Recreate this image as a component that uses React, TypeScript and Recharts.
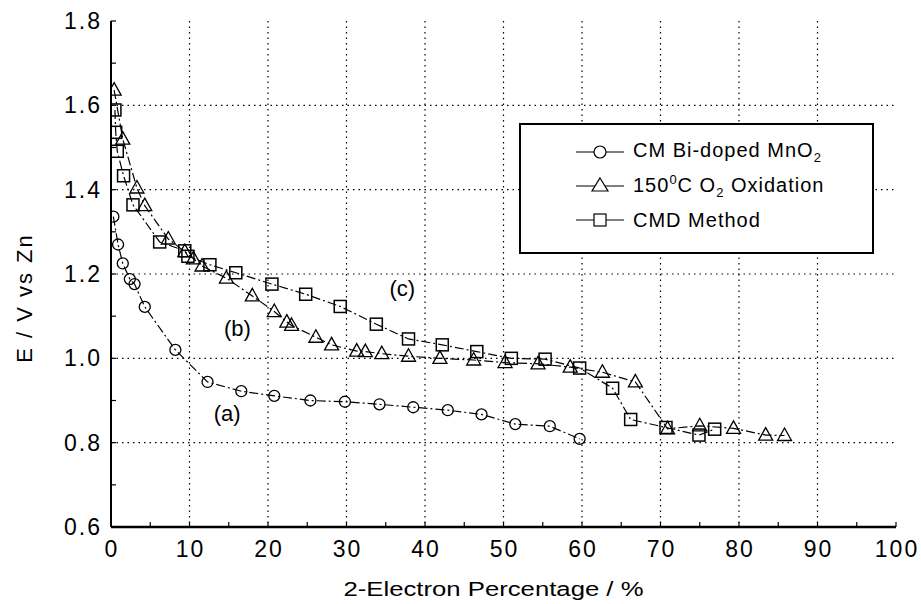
import { LineChart, Line, XAxis, YAxis, CartesianGrid, Legend, ReferenceDot } from 'recharts';

// (a) CM Bi-doped MnO2
const CM_X = [0.3, 0.9, 1.5, 2.4, 3.0, 4.3, 8.2, 12.3, 16.6, 20.8, 25.4, 29.8, 34.2, 38.5, 42.9, 47.2, 51.5, 55.9, 59.7];
const CM_E = [1.336, 1.27, 1.225, 1.188, 1.176, 1.122, 1.02, 0.944, 0.922, 0.911, 0.9, 0.897, 0.891, 0.884, 0.877, 0.867, 0.844, 0.839, 0.809];

// (b) 150C O2 oxidation
const OX_X = [0.4, 1.5, 3.3, 4.3, 7.3, 9.4, 10.5, 11.6, 14.7, 18.0, 20.8, 22.4, 23.0, 26.1, 28.1, 31.3, 32.4, 34.5, 37.9, 41.9, 46.2, 50.2, 54.4, 58.5, 62.6, 66.8, 70.9, 75.0, 79.3, 83.4, 85.8];
const OX_E = [1.636, 1.52, 1.404, 1.362, 1.283, 1.253, 1.236, 1.219, 1.19, 1.148, 1.111, 1.086, 1.078, 1.05, 1.032, 1.017, 1.016, 1.011, 1.005, 1.0, 0.996, 0.99, 0.987, 0.979, 0.967, 0.944, 0.833, 0.84, 0.834, 0.818, 0.817];

// (c) CMD method
const CMD_X = [0.5, 0.6, 0.8, 1.6, 2.8, 6.2, 9.4, 9.8, 12.6, 15.9, 20.5, 24.8, 29.2, 33.8, 37.9, 42.2, 46.6, 51.0, 55.3, 59.7, 63.9, 66.2, 70.7, 74.9, 76.9];
const CMD_E = [1.589, 1.536, 1.491, 1.433, 1.364, 1.276, 1.255, 1.242, 1.222, 1.203, 1.176, 1.152, 1.123, 1.081, 1.046, 1.032, 1.016, 1.0, 0.998, 0.977, 0.929, 0.855, 0.836, 0.818, 0.832];

const X_TICKS = [0, 5, 10, 15, 20, 25, 30, 35, 40, 45, 50, 55, 60, 65, 70, 75, 80, 85, 90, 95, 100];
const Y_TICKS = [0.6, 0.7, 0.8, 0.9, 1.0, 1.1, 1.2, 1.3, 1.4, 1.5, 1.6, 1.7, 1.8];
const X_GRID = [10, 20, 30, 40, 50, 60, 70, 80, 90];
const Y_GRID = [0.8, 1.0, 1.2, 1.4, 1.6];

const toPoints = (xs: number[], es: number[]) => xs.map((x, i) => ({ x, e: es[i] }));
const cmData = toPoints(CM_X, CM_E);
const oxData = toPoints(OX_X, OX_E);
const cmdData = toPoints(CMD_X, CMD_E);

const FONT = '"Liberation Sans", Arial, sans-serif';
const DASH = '9 3 2 3';

function Circle(props: any) {
  const { cx, cy } = props;
  if (cx == null || cy == null) return null;
  return <circle cx={cx} cy={cy} r={5.5} fill="none" stroke="#000" strokeWidth={1.3} />;
}

function Triangle(props: any) {
  const { cx, cy } = props;
  if (cx == null || cy == null) return null;
  return (
    <path
      d={`M${cx},${cy - 7.5} L${cx + 7},${cy + 5} L${cx - 7},${cy + 5} Z`}
      fill="none"
      stroke="#000"
      strokeWidth={1.3}
    />
  );
}

function Square(props: any) {
  const { cx, cy } = props;
  if (cx == null || cy == null) return null;
  return <rect x={cx - 6} y={cy - 6} width={12} height={12} fill="none" stroke="#000" strokeWidth={1.5} />;
}

function BottomTick({ x, y, payload }: any) {
  const v = payload.value;
  return (
    <g>
      <line x1={x} x2={x} y1={y} y2={y - 5} stroke="#000" strokeWidth={1.2} />
      {v % 10 === 0 && (
        <text x={x + 1} y={y + 30} textAnchor="middle" fontSize={23} fontFamily={FONT} letterSpacing={2} fill="#000">
          {v}
        </text>
      )}
    </g>
  );
}

function TopTick({ x, y }: any) {
  return <line x1={x} x2={x} y1={y} y2={y + 5} stroke="#000" strokeWidth={1.2} />;
}

function LeftTick({ x, y, payload }: any) {
  const v = payload.value;
  const major = Math.round(v * 10) % 2 === 0;
  return (
    <g>
      <line x1={x} x2={x + 5} y1={y} y2={y} stroke="#000" strokeWidth={1.2} />
      {major && (
        <text x={x - 9} y={y + 8} textAnchor="end" fontSize={23} fontFamily={FONT} letterSpacing={2} fill="#000">
          {v.toFixed(1)}
        </text>
      )}
    </g>
  );
}

function RightTick({ x, y }: any) {
  return <line x1={x} x2={x - 5} y1={y} y2={y} stroke="#000" strokeWidth={1.2} />;
}

function XTitle({ viewBox }: any) {
  const { x, y, width } = viewBox;
  return (
    <text
      x={x + width / 2 - 160}
      y={y + 69}
      fontSize={20}
      fontFamily={FONT}
      textLength={300}
      lengthAdjust="spacingAndGlyphs"
      fill="#000"
    >
      2-Electron Percentage / %
    </text>
  );
}

function YTitle({ viewBox }: any) {
  const { x, y, height } = viewBox;
  const cx = x + 32;
  const cy = y + height / 2 + 24;
  return (
    <text
      x={cx}
      y={cy}
      transform={`rotate(-90 ${cx} ${cy})`}
      textAnchor="middle"
      fontSize={22}
      fontFamily={FONT}
      letterSpacing={2}
      fill="#000"
    >
      E / V vs Zn
    </text>
  );
}

function Sample({ shape }: { shape: 'circle' | 'triangle' | 'square' }) {
  return (
    <svg width={48} height={22} style={{ display: 'block', flex: 'none' }}>
      <line x1={0} x2={48} y1={11} y2={11} stroke="#000" strokeWidth={1.2} />
      {shape === 'circle' && <circle cx={24} cy={11} r={6} fill="#fff" stroke="#000" strokeWidth={1.2} />}
      {shape === 'triangle' && <path d="M24,3 L32,16 L16,16 Z" fill="#fff" stroke="#000" strokeWidth={1.2} />}
      {shape === 'square' && <rect x={18} y={5} width={12} height={12} fill="#fff" stroke="#000" strokeWidth={1.2} />}
    </svg>
  );
}

function LegendBox() {
  const row = { display: 'flex', alignItems: 'center', height: 34, gap: 9, whiteSpace: 'nowrap' } as const;
  return (
    <div
      style={{
        background: '#fff',
        border: '2px solid #000',
        boxSizing: 'border-box',
        width: 355,
        height: 131,
        padding: '10px 0 0 55px',
        fontFamily: FONT,
        fontSize: 20,
        letterSpacing: 1,
        color: '#000',
        lineHeight: 1,
      }}
    >
      <div style={row}>
        <Sample shape="circle" />
        <span>
          CM Bi-doped MnO<sub style={{ fontSize: 13 }}>2</sub>
        </span>
      </div>
      <div style={row}>
        <Sample shape="triangle" />
        <span>
          150<sup style={{ fontSize: 13 }}>0</sup>C O<sub style={{ fontSize: 13 }}>2</sub> Oxidation
        </span>
      </div>
      <div style={row}>
        <Sample shape="square" />
        <span>CMD Method</span>
      </div>
    </div>
  );
}

const curveLabel = (value: string) => ({
  value,
  position: 'center' as const,
  fontSize: 22,
  fontFamily: FONT,
  fill: '#000',
});

export default function App() {
  return (
    <div style={{ position: 'absolute', left: 0, top: 0, background: '#fff' }}>
      <LineChart width={921} height={604} margin={{ top: 21, right: 25, bottom: 0, left: 0 }}>
        <CartesianGrid
          horizontalValues={Y_GRID}
          verticalValues={X_GRID}
          stroke="#000"
          strokeDasharray="1.5 4"
          strokeWidth={1.2}
        />
        <XAxis
          type="number"
          dataKey="x"
          domain={[0, 100]}
          ticks={X_TICKS}
          interval={0}
          tickSize={0}
          tickMargin={0}
          tickLine={false}
          tick={<BottomTick />}
          axisLine={{ stroke: '#000', strokeWidth: 2.5 }}
          height={77}
          allowDataOverflow
          label={{ content: (p: any) => <XTitle {...p} /> }}
        />
        <XAxis
          xAxisId="top"
          orientation="top"
          type="number"
          domain={[0, 100]}
          ticks={X_TICKS}
          interval={0}
          tickSize={0}
          tickMargin={0}
          tickLine={false}
          tick={<TopTick />}
          axisLine={{ stroke: '#000', strokeWidth: 2 }}
          height={0}
        />
        <YAxis
          type="number"
          domain={[0.6, 1.8]}
          ticks={Y_TICKS}
          interval={0}
          tickSize={0}
          tickMargin={0}
          tickLine={false}
          tick={<LeftTick />}
          axisLine={{ stroke: '#000', strokeWidth: 2 }}
          width={111}
          allowDataOverflow
          label={{ content: (p: any) => <YTitle {...p} /> }}
        />
        <YAxis
          yAxisId="right"
          orientation="right"
          type="number"
          domain={[0.6, 1.8]}
          ticks={Y_TICKS}
          interval={0}
          tickSize={0}
          tickMargin={0}
          tickLine={false}
          tick={<RightTick />}
          axisLine={{ stroke: '#000', strokeWidth: 2 }}
          width={0}
        />
        <Legend
          layout="vertical"
          align="center"
          verticalAlign="middle"
          content={() => <LegendBox />}
          wrapperStyle={{ left: 519, top: 123, width: 355, height: 131 }}
        />
        <Line
          data={cmData}
          dataKey="e"
          name="CM Bi-doped MnO2"
          type="linear"
          stroke="#000"
          strokeWidth={1.2}
          strokeDasharray={DASH}
          dot={<Circle />}
          activeDot={false}
          isAnimationActive={false}
        />
        <Line
          data={oxData}
          dataKey="e"
          name="150C O2 Oxidation"
          type="linear"
          stroke="#000"
          strokeWidth={1.2}
          strokeDasharray={DASH}
          dot={<Triangle />}
          activeDot={false}
          isAnimationActive={false}
        />
        <Line
          data={cmdData}
          dataKey="e"
          name="CMD Method"
          type="linear"
          stroke="#000"
          strokeWidth={1.2}
          strokeDasharray={DASH}
          dot={<Square />}
          activeDot={false}
          isAnimationActive={false}
        />
        <ReferenceDot x={14.8} y={0.87} r={1} fill="none" stroke="none" label={curveLabel('(a)')} />
        <ReferenceDot x={16.1} y={1.072} r={1} fill="none" stroke="none" label={curveLabel('(b)')} />
        <ReferenceDot x={37.1} y={1.167} r={1} fill="none" stroke="none" label={curveLabel('(c)')} />
      </LineChart>
    </div>
  );
}
